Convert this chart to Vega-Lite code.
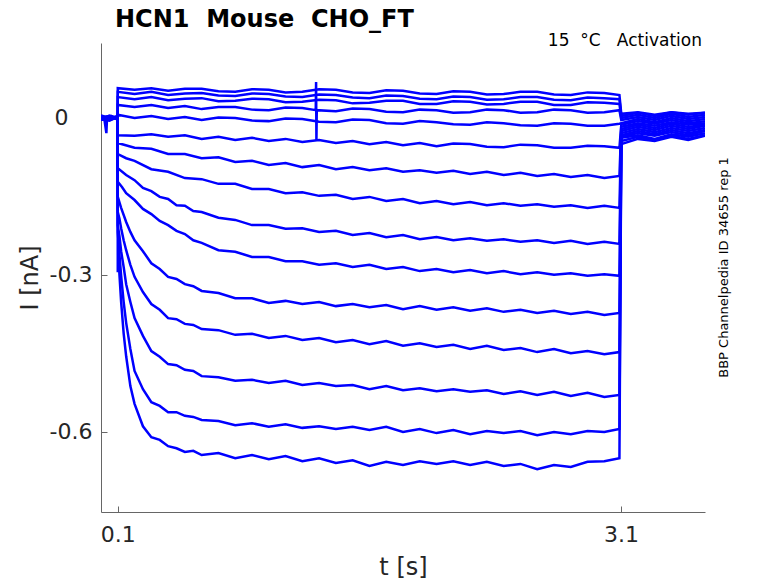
{
  "$schema": "https://vega.github.io/schema/vega-lite/v6.json",
  "width": 604,
  "height": 469,
  "autosize": {"type": "none"},
  "padding": {"left": 101, "top": 43, "right": 73, "bottom": 71},
  "background": "white",
  "config": {
    "font": "DejaVu Sans",
    "view": {"stroke": null},
    "axis": {"grid": false, "domainColor": "#666666", "tickColor": "#666666", "domainWidth": 1, "tickWidth": 1, "tickSize": -6, "labelColor": "#262626", "labelFontSize": 22, "titleColor": "#262626", "titleFontSize": 24, "titleFontWeight": "normal", "labelFont": "DejaVu Sans", "titleFont": "DejaVu Sans"}
  },
  "title": {"text": "HCN1\u00a0\u00a0Mouse\u00a0\u00a0CHO_FT", "anchor": "start", "frame": "group", "dx": 14, "offset": 0, "fontSize": 24, "fontWeight": "bold", "font": "DejaVu Sans", "color": "#000000"},
  "datasets": {
    "traces": [
      {"k":1,"t":0,"i":0.004},{"k":1,"t":0.05,"i":-0.002},{"k":1,"t":0.0995,"i":0.003},{"k":1,"t":0.1,"i":0.057},{"k":1,"t":0.2,"i":0.054},{"k":1,"t":0.3,"i":0.057},{"k":1,"t":0.4,"i":0.052},{"k":1,"t":0.5,"i":0.056},{"k":1,"t":0.6,"i":0.056},{"k":1,"t":0.7,"i":0.051},{"k":1,"t":0.8,"i":0.05},{"k":1,"t":0.9,"i":0.055},{"k":1,"t":1.0,"i":0.054},{"k":1,"t":1.1,"i":0.049},{"k":1,"t":1.2,"i":0.05},{"k":1,"t":1.3,"i":0.055},{"k":1,"t":1.4,"i":0.054},{"k":1,"t":1.5,"i":0.049},{"k":1,"t":1.6,"i":0.048},{"k":1,"t":1.7,"i":0.053},{"k":1,"t":1.8,"i":0.052},{"k":1,"t":1.9,"i":0.047},{"k":1,"t":2.0,"i":0.046},{"k":1,"t":2.1,"i":0.051},{"k":1,"t":2.2,"i":0.05},{"k":1,"t":2.3,"i":0.045},{"k":1,"t":2.4,"i":0.046},{"k":1,"t":2.5,"i":0.05},{"k":1,"t":2.6,"i":0.05},{"k":1,"t":2.7,"i":0.045},{"k":1,"t":2.8,"i":0.044},{"k":1,"t":2.9,"i":0.049},{"k":1,"t":3.0,"i":0.048},{"k":1,"t":3.09,"i":0.044},{"k":1,"t":3.101,"i":0.008},{"k":1,"t":3.2,"i":0.011},{"k":1,"t":3.3,"i":0.006},{"k":1,"t":3.4,"i":0.011},{"k":1,"t":3.5,"i":0.008},{"k":1,"t":3.6,"i":0.01},
      {"k":2,"t":0,"i":-0.002},{"k":2,"t":0.05,"i":0.003},{"k":2,"t":0.0995,"i":-0.001},{"k":2,"t":0.1,"i":0.05},{"k":2,"t":0.2,"i":0.046},{"k":2,"t":0.3,"i":0.05},{"k":2,"t":0.4,"i":0.044},{"k":2,"t":0.5,"i":0.047},{"k":2,"t":0.6,"i":0.048},{"k":2,"t":0.7,"i":0.043},{"k":2,"t":0.8,"i":0.042},{"k":2,"t":0.9,"i":0.047},{"k":2,"t":1.0,"i":0.046},{"k":2,"t":1.1,"i":0.041},{"k":2,"t":1.2,"i":0.04},{"k":2,"t":1.3,"i":0.045},{"k":2,"t":1.4,"i":0.044},{"k":2,"t":1.5,"i":0.039},{"k":2,"t":1.6,"i":0.038},{"k":2,"t":1.7,"i":0.043},{"k":2,"t":1.8,"i":0.042},{"k":2,"t":1.9,"i":0.037},{"k":2,"t":2.0,"i":0.036},{"k":2,"t":2.1,"i":0.041},{"k":2,"t":2.2,"i":0.04},{"k":2,"t":2.3,"i":0.035},{"k":2,"t":2.4,"i":0.036},{"k":2,"t":2.5,"i":0.04},{"k":2,"t":2.6,"i":0.04},{"k":2,"t":2.7,"i":0.035},{"k":2,"t":2.8,"i":0.034},{"k":2,"t":2.9,"i":0.039},{"k":2,"t":3.0,"i":0.038},{"k":2,"t":3.09,"i":0.036},{"k":2,"t":3.101,"i":0.004},{"k":2,"t":3.2,"i":0.01},{"k":2,"t":3.3,"i":0.004},{"k":2,"t":3.4,"i":0.011},{"k":2,"t":3.5,"i":0.006},{"k":2,"t":3.6,"i":0.01},
      {"k":3,"t":0,"i":0.001},{"k":3,"t":0.05,"i":-0.004},{"k":3,"t":0.0995,"i":0.002},{"k":3,"t":0.1,"i":0.04},{"k":3,"t":0.2,"i":0.036},{"k":3,"t":0.3,"i":0.04},{"k":3,"t":0.4,"i":0.034},{"k":3,"t":0.5,"i":0.037},{"k":3,"t":0.6,"i":0.038},{"k":3,"t":0.7,"i":0.032},{"k":3,"t":0.8,"i":0.033},{"k":3,"t":0.9,"i":0.037},{"k":3,"t":1.0,"i":0.036},{"k":3,"t":1.1,"i":0.03},{"k":3,"t":1.2,"i":0.031},{"k":3,"t":1.3,"i":0.035},{"k":3,"t":1.4,"i":0.034},{"k":3,"t":1.5,"i":0.028},{"k":3,"t":1.6,"i":0.029},{"k":3,"t":1.7,"i":0.033},{"k":3,"t":1.8,"i":0.033},{"k":3,"t":1.9,"i":0.027},{"k":3,"t":2.0,"i":0.027},{"k":3,"t":2.1,"i":0.032},{"k":3,"t":2.2,"i":0.031},{"k":3,"t":2.3,"i":0.026},{"k":3,"t":2.4,"i":0.027},{"k":3,"t":2.5,"i":0.031},{"k":3,"t":2.6,"i":0.031},{"k":3,"t":2.7,"i":0.025},{"k":3,"t":2.8,"i":0.025},{"k":3,"t":2.9,"i":0.03},{"k":3,"t":3.0,"i":0.029},{"k":3,"t":3.09,"i":0.027},{"k":3,"t":3.101,"i":0.0},{"k":3,"t":3.2,"i":0.006},{"k":3,"t":3.3,"i":0.0},{"k":3,"t":3.4,"i":0.008},{"k":3,"t":3.5,"i":0.002},{"k":3,"t":3.6,"i":0.006},
      {"k":4,"t":0,"i":-0.003},{"k":4,"t":0.05,"i":0.002},{"k":4,"t":0.0995,"i":-0.002},{"k":4,"t":0.1,"i":0.025},{"k":4,"t":0.2,"i":0.021},{"k":4,"t":0.3,"i":0.025},{"k":4,"t":0.4,"i":0.019},{"k":4,"t":0.5,"i":0.023},{"k":4,"t":0.6,"i":0.017},{"k":4,"t":0.7,"i":0.021},{"k":4,"t":0.8,"i":0.021},{"k":4,"t":0.9,"i":0.016},{"k":4,"t":1.0,"i":0.015},{"k":4,"t":1.1,"i":0.02},{"k":4,"t":1.2,"i":0.019},{"k":4,"t":1.28,"i":0.015},{"k":4,"t":1.282,"i":0.069},{"k":4,"t":1.284,"i":-0.044},{"k":4,"t":1.286,"i":0.015},{"k":4,"t":1.4,"i":0.013},{"k":4,"t":1.5,"i":0.018},{"k":4,"t":1.6,"i":0.017},{"k":4,"t":1.7,"i":0.012},{"k":4,"t":1.8,"i":0.011},{"k":4,"t":1.9,"i":0.016},{"k":4,"t":2.0,"i":0.015},{"k":4,"t":2.1,"i":0.01},{"k":4,"t":2.2,"i":0.011},{"k":4,"t":2.3,"i":0.016},{"k":4,"t":2.4,"i":0.015},{"k":4,"t":2.5,"i":0.01},{"k":4,"t":2.6,"i":0.011},{"k":4,"t":2.7,"i":0.016},{"k":4,"t":2.8,"i":0.015},{"k":4,"t":2.9,"i":0.01},{"k":4,"t":3.0,"i":0.011},{"k":4,"t":3.09,"i":0.015},{"k":4,"t":3.101,"i":-0.004},{"k":4,"t":3.2,"i":0.002},{"k":4,"t":3.3,"i":-0.004},{"k":4,"t":3.4,"i":0.004},{"k":4,"t":3.5,"i":-0.002},{"k":4,"t":3.6,"i":0.002},
      {"k":5,"t":0,"i":0.002},{"k":5,"t":0.05,"i":-0.001},{"k":5,"t":0.0995,"i":0.004},{"k":5,"t":0.1,"i":0.006},{"k":5,"t":0.2,"i":0.0},{"k":5,"t":0.3,"i":0.004},{"k":5,"t":0.4,"i":-0.002},{"k":5,"t":0.5,"i":0.002},{"k":5,"t":0.6,"i":-0.004},{"k":5,"t":0.7,"i":0.001},{"k":5,"t":0.8,"i":0.0},{"k":5,"t":0.9,"i":-0.005},{"k":5,"t":1.0,"i":-0.006},{"k":5,"t":1.1,"i":-0.001},{"k":5,"t":1.2,"i":-0.002},{"k":5,"t":1.3,"i":-0.007},{"k":5,"t":1.4,"i":-0.008},{"k":5,"t":1.5,"i":-0.003},{"k":5,"t":1.6,"i":-0.004},{"k":5,"t":1.7,"i":-0.01},{"k":5,"t":1.8,"i":-0.011},{"k":5,"t":1.9,"i":-0.006},{"k":5,"t":2.0,"i":-0.008},{"k":5,"t":2.1,"i":-0.012},{"k":5,"t":2.2,"i":-0.013},{"k":5,"t":2.3,"i":-0.008},{"k":5,"t":2.4,"i":-0.01},{"k":5,"t":2.5,"i":-0.014},{"k":5,"t":2.6,"i":-0.015},{"k":5,"t":2.7,"i":-0.01},{"k":5,"t":2.8,"i":-0.011},{"k":5,"t":2.9,"i":-0.015},{"k":5,"t":3.0,"i":-0.015},{"k":5,"t":3.09,"i":-0.011},{"k":5,"t":3.101,"i":-0.01},{"k":5,"t":3.2,"i":-0.002},{"k":5,"t":3.3,"i":-0.008},{"k":5,"t":3.4,"i":0.0},{"k":5,"t":3.5,"i":-0.006},{"k":5,"t":3.6,"i":-0.002},
      {"k":6,"t":0,"i":-0.001},{"k":6,"t":0.05,"i":0.004},{"k":6,"t":0.0995,"i":0.0},{"k":6,"t":0.1,"i":-0.033},{"k":6,"t":0.2,"i":-0.034},{"k":6,"t":0.3,"i":-0.031},{"k":6,"t":0.4,"i":-0.036},{"k":6,"t":0.5,"i":-0.033},{"k":6,"t":0.6,"i":-0.04},{"k":6,"t":0.7,"i":-0.036},{"k":6,"t":0.8,"i":-0.042},{"k":6,"t":0.9,"i":-0.038},{"k":6,"t":1.0,"i":-0.044},{"k":6,"t":1.1,"i":-0.04},{"k":6,"t":1.2,"i":-0.046},{"k":6,"t":1.3,"i":-0.042},{"k":6,"t":1.4,"i":-0.048},{"k":6,"t":1.5,"i":-0.044},{"k":6,"t":1.6,"i":-0.05},{"k":6,"t":1.7,"i":-0.046},{"k":6,"t":1.8,"i":-0.052},{"k":6,"t":1.9,"i":-0.048},{"k":6,"t":2.0,"i":-0.054},{"k":6,"t":2.1,"i":-0.049},{"k":6,"t":2.2,"i":-0.05},{"k":6,"t":2.3,"i":-0.055},{"k":6,"t":2.4,"i":-0.056},{"k":6,"t":2.5,"i":-0.051},{"k":6,"t":2.6,"i":-0.052},{"k":6,"t":2.7,"i":-0.057},{"k":6,"t":2.8,"i":-0.057},{"k":6,"t":2.9,"i":-0.053},{"k":6,"t":3.0,"i":-0.054},{"k":6,"t":3.09,"i":-0.057},{"k":6,"t":3.101,"i":-0.013},{"k":6,"t":3.2,"i":-0.006},{"k":6,"t":3.3,"i":-0.011},{"k":6,"t":3.4,"i":-0.004},{"k":6,"t":3.5,"i":-0.01},{"k":6,"t":3.6,"i":-0.006},
      {"k":7,"t":0,"i":0.003},{"k":7,"t":0.05,"i":-0.003},{"k":7,"t":0.0995,"i":0.001},{"k":7,"t":0.1,"i":-0.048},{"k":7,"t":0.2,"i":-0.057},{"k":7,"t":0.3,"i":-0.059},{"k":7,"t":0.4,"i":-0.069},{"k":7,"t":0.5,"i":-0.069},{"k":7,"t":0.6,"i":-0.077},{"k":7,"t":0.7,"i":-0.075},{"k":7,"t":0.8,"i":-0.084},{"k":7,"t":0.9,"i":-0.082},{"k":7,"t":1.0,"i":-0.09},{"k":7,"t":1.1,"i":-0.086},{"k":7,"t":1.2,"i":-0.094},{"k":7,"t":1.3,"i":-0.09},{"k":7,"t":1.4,"i":-0.098},{"k":7,"t":1.5,"i":-0.094},{"k":7,"t":1.6,"i":-0.1},{"k":7,"t":1.7,"i":-0.096},{"k":7,"t":1.8,"i":-0.103},{"k":7,"t":1.9,"i":-0.1},{"k":7,"t":2.0,"i":-0.105},{"k":7,"t":2.1,"i":-0.101},{"k":7,"t":2.2,"i":-0.107},{"k":7,"t":2.3,"i":-0.103},{"k":7,"t":2.4,"i":-0.109},{"k":7,"t":2.5,"i":-0.105},{"k":7,"t":2.6,"i":-0.111},{"k":7,"t":2.7,"i":-0.107},{"k":7,"t":2.8,"i":-0.113},{"k":7,"t":2.9,"i":-0.109},{"k":7,"t":3.0,"i":-0.115},{"k":7,"t":3.09,"i":-0.111},{"k":7,"t":3.101,"i":-0.017},{"k":7,"t":3.2,"i":-0.01},{"k":7,"t":3.3,"i":-0.015},{"k":7,"t":3.4,"i":-0.008},{"k":7,"t":3.5,"i":-0.013},{"k":7,"t":3.6,"i":-0.01},
      {"k":8,"t":0,"i":-0.004},{"k":8,"t":0.05,"i":0.001},{"k":8,"t":0.0995,"i":-0.001},{"k":8,"t":0.1,"i":-0.069},{"k":8,"t":0.15,"i":-0.077},{"k":8,"t":0.2,"i":-0.082},{"k":8,"t":0.3,"i":-0.098},{"k":8,"t":0.4,"i":-0.103},{"k":8,"t":0.5,"i":-0.115},{"k":8,"t":0.6,"i":-0.117},{"k":8,"t":0.7,"i":-0.126},{"k":8,"t":0.8,"i":-0.126},{"k":8,"t":0.9,"i":-0.136},{"k":8,"t":1.0,"i":-0.136},{"k":8,"t":1.1,"i":-0.144},{"k":8,"t":1.2,"i":-0.142},{"k":8,"t":1.3,"i":-0.149},{"k":8,"t":1.4,"i":-0.147},{"k":8,"t":1.5,"i":-0.155},{"k":8,"t":1.6,"i":-0.151},{"k":8,"t":1.7,"i":-0.159},{"k":8,"t":1.8,"i":-0.155},{"k":8,"t":1.9,"i":-0.163},{"k":8,"t":2.0,"i":-0.159},{"k":8,"t":2.1,"i":-0.165},{"k":8,"t":2.2,"i":-0.161},{"k":8,"t":2.3,"i":-0.167},{"k":8,"t":2.4,"i":-0.163},{"k":8,"t":2.5,"i":-0.168},{"k":8,"t":2.6,"i":-0.165},{"k":8,"t":2.7,"i":-0.17},{"k":8,"t":2.8,"i":-0.167},{"k":8,"t":2.9,"i":-0.172},{"k":8,"t":3.0,"i":-0.168},{"k":8,"t":3.09,"i":-0.172},{"k":8,"t":3.101,"i":-0.021},{"k":8,"t":3.2,"i":-0.013},{"k":8,"t":3.3,"i":-0.019},{"k":8,"t":3.4,"i":-0.011},{"k":8,"t":3.5,"i":-0.017},{"k":8,"t":3.6,"i":-0.013},
      {"k":9,"t":0,"i":0.002},{"k":9,"t":0.05,"i":-0.002},{"k":9,"t":0.0995,"i":0.003},{"k":9,"t":0.1,"i":-0.096},{"k":9,"t":0.15,"i":-0.109},{"k":9,"t":0.2,"i":-0.119},{"k":9,"t":0.25,"i":-0.134},{"k":9,"t":0.3,"i":-0.14},{"k":9,"t":0.35,"i":-0.151},{"k":9,"t":0.4,"i":-0.155},{"k":9,"t":0.45,"i":-0.167},{"k":9,"t":0.5,"i":-0.168},{"k":9,"t":0.55,"i":-0.178},{"k":9,"t":0.6,"i":-0.18},{"k":9,"t":0.7,"i":-0.191},{"k":9,"t":0.8,"i":-0.195},{"k":9,"t":0.9,"i":-0.205},{"k":9,"t":1.0,"i":-0.205},{"k":9,"t":1.1,"i":-0.212},{"k":9,"t":1.2,"i":-0.211},{"k":9,"t":1.3,"i":-0.218},{"k":9,"t":1.4,"i":-0.216},{"k":9,"t":1.5,"i":-0.224},{"k":9,"t":1.6,"i":-0.22},{"k":9,"t":1.7,"i":-0.228},{"k":9,"t":1.8,"i":-0.224},{"k":9,"t":1.9,"i":-0.232},{"k":9,"t":2.0,"i":-0.228},{"k":9,"t":2.1,"i":-0.234},{"k":9,"t":2.2,"i":-0.23},{"k":9,"t":2.3,"i":-0.235},{"k":9,"t":2.4,"i":-0.232},{"k":9,"t":2.5,"i":-0.237},{"k":9,"t":2.6,"i":-0.234},{"k":9,"t":2.7,"i":-0.239},{"k":9,"t":2.8,"i":-0.235},{"k":9,"t":2.9,"i":-0.241},{"k":9,"t":3.0,"i":-0.237},{"k":9,"t":3.09,"i":-0.241},{"k":9,"t":3.101,"i":-0.025},{"k":9,"t":3.2,"i":-0.017},{"k":9,"t":3.3,"i":-0.023},{"k":9,"t":3.4,"i":-0.015},{"k":9,"t":3.5,"i":-0.021},{"k":9,"t":3.6,"i":-0.015},
      {"k":10,"t":0,"i":0.0},{"k":10,"t":0.05,"i":0.004},{"k":10,"t":0.0995,"i":-0.003},{"k":10,"t":0.1,"i":-0.122},{"k":10,"t":0.125,"i":-0.132},{"k":10,"t":0.15,"i":-0.144},{"k":10,"t":0.2,"i":-0.157},{"k":10,"t":0.25,"i":-0.174},{"k":10,"t":0.3,"i":-0.184},{"k":10,"t":0.35,"i":-0.197},{"k":10,"t":0.4,"i":-0.205},{"k":10,"t":0.45,"i":-0.216},{"k":10,"t":0.5,"i":-0.222},{"k":10,"t":0.55,"i":-0.234},{"k":10,"t":0.6,"i":-0.239},{"k":10,"t":0.7,"i":-0.253},{"k":10,"t":0.8,"i":-0.256},{"k":10,"t":0.9,"i":-0.266},{"k":10,"t":1.0,"i":-0.266},{"k":10,"t":1.1,"i":-0.274},{"k":10,"t":1.2,"i":-0.274},{"k":10,"t":1.3,"i":-0.281},{"k":10,"t":1.4,"i":-0.278},{"k":10,"t":1.5,"i":-0.285},{"k":10,"t":1.6,"i":-0.281},{"k":10,"t":1.7,"i":-0.289},{"k":10,"t":1.8,"i":-0.285},{"k":10,"t":1.9,"i":-0.293},{"k":10,"t":2.0,"i":-0.289},{"k":10,"t":2.1,"i":-0.295},{"k":10,"t":2.2,"i":-0.291},{"k":10,"t":2.3,"i":-0.297},{"k":10,"t":2.4,"i":-0.293},{"k":10,"t":2.5,"i":-0.299},{"k":10,"t":2.6,"i":-0.295},{"k":10,"t":2.7,"i":-0.3},{"k":10,"t":2.8,"i":-0.297},{"k":10,"t":2.9,"i":-0.302},{"k":10,"t":3.0,"i":-0.299},{"k":10,"t":3.09,"i":-0.302},{"k":10,"t":3.101,"i":-0.029},{"k":10,"t":3.2,"i":-0.021},{"k":10,"t":3.3,"i":-0.027},{"k":10,"t":3.4,"i":-0.019},{"k":10,"t":3.5,"i":-0.025},{"k":10,"t":3.6,"i":-0.019},
      {"k":11,"t":0,"i":-0.002},{"k":11,"t":0.05,"i":-0.005},{"k":11,"t":0.0995,"i":0.002},{"k":11,"t":0.1,"i":-0.151},{"k":11,"t":0.12,"i":-0.172},{"k":11,"t":0.15,"i":-0.199},{"k":11,"t":0.175,"i":-0.218},{"k":11,"t":0.2,"i":-0.234},{"k":11,"t":0.25,"i":-0.255},{"k":11,"t":0.3,"i":-0.278},{"k":11,"t":0.35,"i":-0.289},{"k":11,"t":0.4,"i":-0.304},{"k":11,"t":0.45,"i":-0.308},{"k":11,"t":0.5,"i":-0.318},{"k":11,"t":0.55,"i":-0.322},{"k":11,"t":0.6,"i":-0.331},{"k":11,"t":0.7,"i":-0.335},{"k":11,"t":0.8,"i":-0.345},{"k":11,"t":0.9,"i":-0.345},{"k":11,"t":1.0,"i":-0.354},{"k":11,"t":1.1,"i":-0.35},{"k":11,"t":1.2,"i":-0.356},{"k":11,"t":1.3,"i":-0.352},{"k":11,"t":1.4,"i":-0.36},{"k":11,"t":1.5,"i":-0.356},{"k":11,"t":1.6,"i":-0.362},{"k":11,"t":1.7,"i":-0.358},{"k":11,"t":1.8,"i":-0.366},{"k":11,"t":1.9,"i":-0.36},{"k":11,"t":2.0,"i":-0.367},{"k":11,"t":2.1,"i":-0.362},{"k":11,"t":2.2,"i":-0.369},{"k":11,"t":2.3,"i":-0.364},{"k":11,"t":2.4,"i":-0.371},{"k":11,"t":2.5,"i":-0.367},{"k":11,"t":2.6,"i":-0.373},{"k":11,"t":2.7,"i":-0.369},{"k":11,"t":2.8,"i":-0.375},{"k":11,"t":2.9,"i":-0.371},{"k":11,"t":3.0,"i":-0.377},{"k":11,"t":3.09,"i":-0.373},{"k":11,"t":3.101,"i":-0.033},{"k":11,"t":3.2,"i":-0.025},{"k":11,"t":3.3,"i":-0.031},{"k":11,"t":3.4,"i":-0.023},{"k":11,"t":3.5,"i":-0.029},{"k":11,"t":3.6,"i":-0.023},
      {"k":12,"t":0,"i":0.005},{"k":12,"t":0.05,"i":0.0},{"k":12,"t":0.0995,"i":-0.002},{"k":12,"t":0.1,"i":-0.18},{"k":12,"t":0.11,"i":-0.193},{"k":12,"t":0.12,"i":-0.211},{"k":12,"t":0.135,"i":-0.234},{"k":12,"t":0.15,"i":-0.253},{"k":12,"t":0.175,"i":-0.281},{"k":12,"t":0.2,"i":-0.304},{"k":12,"t":0.25,"i":-0.333},{"k":12,"t":0.3,"i":-0.356},{"k":12,"t":0.35,"i":-0.367},{"k":12,"t":0.4,"i":-0.383},{"k":12,"t":0.45,"i":-0.385},{"k":12,"t":0.5,"i":-0.394},{"k":12,"t":0.55,"i":-0.396},{"k":12,"t":0.6,"i":-0.404},{"k":12,"t":0.7,"i":-0.406},{"k":12,"t":0.8,"i":-0.415},{"k":12,"t":0.9,"i":-0.413},{"k":12,"t":1.0,"i":-0.421},{"k":12,"t":1.1,"i":-0.417},{"k":12,"t":1.2,"i":-0.425},{"k":12,"t":1.3,"i":-0.421},{"k":12,"t":1.4,"i":-0.429},{"k":12,"t":1.5,"i":-0.425},{"k":12,"t":1.6,"i":-0.433},{"k":12,"t":1.7,"i":-0.427},{"k":12,"t":1.8,"i":-0.436},{"k":12,"t":1.9,"i":-0.431},{"k":12,"t":2.0,"i":-0.438},{"k":12,"t":2.1,"i":-0.434},{"k":12,"t":2.2,"i":-0.442},{"k":12,"t":2.3,"i":-0.436},{"k":12,"t":2.4,"i":-0.444},{"k":12,"t":2.5,"i":-0.44},{"k":12,"t":2.6,"i":-0.448},{"k":12,"t":2.7,"i":-0.442},{"k":12,"t":2.8,"i":-0.45},{"k":12,"t":2.9,"i":-0.446},{"k":12,"t":3.0,"i":-0.452},{"k":12,"t":3.09,"i":-0.448},{"k":12,"t":3.101,"i":-0.036},{"k":12,"t":3.2,"i":-0.029},{"k":12,"t":3.3,"i":-0.034},{"k":12,"t":3.4,"i":-0.027},{"k":12,"t":3.5,"i":-0.033},{"k":12,"t":3.6,"i":-0.025},
      {"k":13,"t":0,"i":-0.003},{"k":13,"t":0.05,"i":0.002},{"k":13,"t":0.0995,"i":0.001},{"k":13,"t":0.1,"i":-0.205},{"k":13,"t":0.11,"i":-0.226},{"k":13,"t":0.12,"i":-0.255},{"k":13,"t":0.135,"i":-0.285},{"k":13,"t":0.15,"i":-0.318},{"k":13,"t":0.175,"i":-0.352},{"k":13,"t":0.2,"i":-0.383},{"k":13,"t":0.25,"i":-0.417},{"k":13,"t":0.3,"i":-0.446},{"k":13,"t":0.35,"i":-0.457},{"k":13,"t":0.4,"i":-0.471},{"k":13,"t":0.45,"i":-0.473},{"k":13,"t":0.5,"i":-0.482},{"k":13,"t":0.55,"i":-0.484},{"k":13,"t":0.6,"i":-0.494},{"k":13,"t":0.7,"i":-0.496},{"k":13,"t":0.8,"i":-0.503},{"k":13,"t":0.9,"i":-0.501},{"k":13,"t":1.0,"i":-0.507},{"k":13,"t":1.1,"i":-0.503},{"k":13,"t":1.2,"i":-0.511},{"k":13,"t":1.3,"i":-0.507},{"k":13,"t":1.4,"i":-0.513},{"k":13,"t":1.5,"i":-0.511},{"k":13,"t":1.6,"i":-0.519},{"k":13,"t":1.7,"i":-0.513},{"k":13,"t":1.8,"i":-0.521},{"k":13,"t":1.9,"i":-0.517},{"k":13,"t":2.0,"i":-0.523},{"k":13,"t":2.1,"i":-0.519},{"k":13,"t":2.2,"i":-0.524},{"k":13,"t":2.3,"i":-0.521},{"k":13,"t":2.4,"i":-0.528},{"k":13,"t":2.5,"i":-0.523},{"k":13,"t":2.6,"i":-0.53},{"k":13,"t":2.7,"i":-0.524},{"k":13,"t":2.8,"i":-0.532},{"k":13,"t":2.9,"i":-0.526},{"k":13,"t":3.0,"i":-0.534},{"k":13,"t":3.09,"i":-0.53},{"k":13,"t":3.101,"i":-0.038},{"k":13,"t":3.2,"i":-0.033},{"k":13,"t":3.3,"i":-0.04},{"k":13,"t":3.4,"i":-0.031},{"k":13,"t":3.5,"i":-0.036},{"k":13,"t":3.6,"i":-0.029},
      {"k":14,"t":0,"i":-0.002},{"k":14,"t":0.05,"i":0.003},{"k":14,"t":0.0995,"i":0.0},{"k":14,"t":0.1,"i":-0.218},{"k":14,"t":0.11,"i":-0.262},{"k":14,"t":0.12,"i":-0.302},{"k":14,"t":0.135,"i":-0.352},{"k":14,"t":0.15,"i":-0.392},{"k":14,"t":0.175,"i":-0.442},{"k":14,"t":0.2,"i":-0.484},{"k":14,"t":0.25,"i":-0.519},{"k":14,"t":0.3,"i":-0.544},{"k":14,"t":0.35,"i":-0.551},{"k":14,"t":0.4,"i":-0.563},{"k":14,"t":0.45,"i":-0.563},{"k":14,"t":0.5,"i":-0.57},{"k":14,"t":0.55,"i":-0.572},{"k":14,"t":0.6,"i":-0.578},{"k":14,"t":0.7,"i":-0.58},{"k":14,"t":0.8,"i":-0.588},{"k":14,"t":0.9,"i":-0.584},{"k":14,"t":1.0,"i":-0.591},{"k":14,"t":1.1,"i":-0.586},{"k":14,"t":1.2,"i":-0.593},{"k":14,"t":1.3,"i":-0.59},{"k":14,"t":1.4,"i":-0.595},{"k":14,"t":1.5,"i":-0.591},{"k":14,"t":1.6,"i":-0.597},{"k":14,"t":1.7,"i":-0.591},{"k":14,"t":1.8,"i":-0.601},{"k":14,"t":1.9,"i":-0.595},{"k":14,"t":2.0,"i":-0.603},{"k":14,"t":2.1,"i":-0.597},{"k":14,"t":2.2,"i":-0.605},{"k":14,"t":2.3,"i":-0.599},{"k":14,"t":2.4,"i":-0.603},{"k":14,"t":2.5,"i":-0.599},{"k":14,"t":2.6,"i":-0.607},{"k":14,"t":2.7,"i":-0.601},{"k":14,"t":2.8,"i":-0.605},{"k":14,"t":2.9,"i":-0.599},{"k":14,"t":3.0,"i":-0.601},{"k":14,"t":3.09,"i":-0.595},{"k":14,"t":3.101,"i":-0.044},{"k":14,"t":3.2,"i":-0.036},{"k":14,"t":3.3,"i":-0.042},{"k":14,"t":3.4,"i":-0.034},{"k":14,"t":3.5,"i":-0.04},{"k":14,"t":3.6,"i":-0.033},
      {"k":15,"t":0,"i":0.003},{"k":15,"t":0.02,"i":-0.002},{"k":15,"t":0.032,"i":-0.029},{"k":15,"t":0.036,"i":0.001},{"k":15,"t":0.06,"i":0.004},{"k":15,"t":0.0995,"i":-0.002},{"k":15,"t":0.1,"i":-0.295},{"k":15,"t":0.104,"i":-0.253},{"k":15,"t":0.11,"i":-0.3},{"k":15,"t":0.12,"i":-0.352},{"k":15,"t":0.135,"i":-0.412},{"k":15,"t":0.15,"i":-0.456},{"k":15,"t":0.175,"i":-0.513},{"k":15,"t":0.2,"i":-0.547},{"k":15,"t":0.25,"i":-0.59},{"k":15,"t":0.3,"i":-0.611},{"k":15,"t":0.35,"i":-0.616},{"k":15,"t":0.4,"i":-0.628},{"k":15,"t":0.45,"i":-0.632},{"k":15,"t":0.5,"i":-0.639},{"k":15,"t":0.55,"i":-0.637},{"k":15,"t":0.6,"i":-0.645},{"k":15,"t":0.7,"i":-0.641},{"k":15,"t":0.8,"i":-0.651},{"k":15,"t":0.9,"i":-0.645},{"k":15,"t":1.0,"i":-0.653},{"k":15,"t":1.1,"i":-0.647},{"k":15,"t":1.2,"i":-0.657},{"k":15,"t":1.3,"i":-0.651},{"k":15,"t":1.4,"i":-0.66},{"k":15,"t":1.5,"i":-0.655},{"k":15,"t":1.6,"i":-0.666},{"k":15,"t":1.7,"i":-0.658},{"k":15,"t":1.8,"i":-0.664},{"k":15,"t":1.9,"i":-0.657},{"k":15,"t":2.0,"i":-0.662},{"k":15,"t":2.1,"i":-0.657},{"k":15,"t":2.2,"i":-0.664},{"k":15,"t":2.3,"i":-0.658},{"k":15,"t":2.4,"i":-0.666},{"k":15,"t":2.5,"i":-0.662},{"k":15,"t":2.6,"i":-0.672},{"k":15,"t":2.7,"i":-0.664},{"k":15,"t":2.8,"i":-0.668},{"k":15,"t":2.9,"i":-0.658},{"k":15,"t":3.0,"i":-0.657},{"k":15,"t":3.09,"i":-0.651},{"k":15,"t":3.101,"i":-0.05},{"k":15,"t":3.2,"i":-0.04},{"k":15,"t":3.3,"i":-0.044},{"k":15,"t":3.4,"i":-0.036},{"k":15,"t":3.5,"i":-0.042},{"k":15,"t":3.6,"i":-0.034}
    ]
  },
  "layer": [
    {
      "data": {"name": "traces"},
      "mark": {"type": "line", "color": "#0000ff", "strokeWidth": 2.5, "clip": true},
      "encoding": {
        "x": {"field": "t", "type": "quantitative", "scale": {"domain": [0, 3.6], "nice": false, "zero": false},
              "axis": {"values": [0.1, 3.1], "labelExpr": "format(datum.value, '.1f')", "labelPadding": 18, "title": "t [s]", "titlePadding": 10, "labelFlush": false}},
        "y": {"field": "i", "type": "quantitative", "scale": {"domain": [-0.754, 0.1435], "nice": false, "zero": false},
              "axis": {"values": [0, -0.3, -0.6], "labelExpr": "datum.value == 0 ? '0' : '-' + format(abs(datum.value), '.1f')", "labelPadding": {"condition": {"test": "datum.value == 0", "value": 39}, "value": 15}, "title": "I [nA]", "titlePadding": 7}},
        "detail": {"field": "k", "type": "nominal"}
      }
    },
    {
      "data": {"values": [{"label": "15\u00a0\u00a0°C\u00a0\u00a0\u00a0Activation"}]},
      "mark": {"type": "text", "align": "right", "baseline": "alphabetic", "fontSize": 17, "font": "DejaVu Sans", "color": "#000000"},
      "encoding": {
        "x": {"datum": 3.582, "type": "quantitative", "scale": {"domain": [0, 3.6], "nice": false, "zero": false}},
        "y": {"datum": 0.1378, "type": "quantitative", "scale": {"domain": [-0.754, 0.1435], "nice": false, "zero": false}},
        "text": {"field": "label"}
      }
    },
    {
      "data": {"values": [{"label": "BBP Channelpedia ID 34655 rep 1"}]},
      "mark": {"type": "text", "align": "center", "baseline": "alphabetic", "angle": 270, "fontSize": 13, "font": "DejaVu Sans", "color": "#000000"},
      "encoding": {
        "x": {"datum": 3.737, "type": "quantitative", "scale": {"domain": [0, 3.6], "nice": false, "zero": false}},
        "y": {"datum": -0.286, "type": "quantitative", "scale": {"domain": [-0.754, 0.1435], "nice": false, "zero": false}},
        "text": {"field": "label"}
      }
    }
  ]
}
